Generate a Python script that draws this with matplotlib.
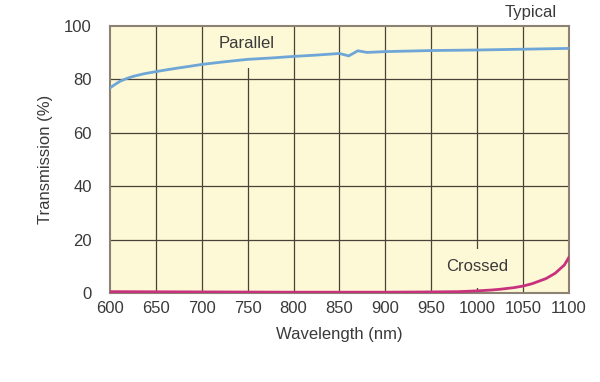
import numpy as np
import matplotlib.pyplot as plt

plt.rcParams['font.family'] = ['Liberation Sans', 'DejaVu Sans']

# parallel transmission (%)
par_wl = [600, 605, 611, 618, 625, 637, 650, 662, 675, 687, 700, 725, 750, 775,
          800, 825, 850, 860, 870, 880, 900, 950, 1000, 1050, 1100]
par_t = [76.8, 78.0, 79.3, 80.3, 81.1, 82.1, 82.9, 83.6, 84.3, 84.9, 85.6, 86.6,
         87.5, 88.0, 88.6, 89.1, 89.7, 88.8, 90.7, 90.1, 90.4, 90.8, 91.0, 91.3, 91.6]

# crossed transmission (%)
crs_wl = [600, 700, 800, 900, 950, 980, 1000, 1015, 1025, 1040, 1050, 1060,
          1075, 1085, 1095, 1100]
crs_t = [0.5, 0.4, 0.3, 0.3, 0.4, 0.5, 0.8, 1.1, 1.4, 2.0, 2.6, 3.5,
         5.4, 7.4, 10.5, 13.4]

xticks = list(range(600, 1101, 50))
yticks = list(range(0, 101, 20))

bg = '#fdf8d5'
grid_c = '#4a4236'
txt_c = '#3a3a3a'

fig = plt.figure(figsize=(6, 3.82), dpi=100)
ax = fig.add_axes([0.1833, 0.233, 0.765, 0.699])
ax.set_facecolor(bg)

for x in xticks[1:-1]:
    ax.axvline(x, color=grid_c, lw=0.9, zorder=1)
for y in yticks[1:-1]:
    ax.axhline(y, color=grid_c, lw=0.9, zorder=1)

# hide gridline behind labels
ax.axvspan(735, 765, ymin=0.843, ymax=1, color=bg, lw=0, zorder=2)
ax.axvspan(985, 1015, ymin=0.02, ymax=0.165, color=bg, lw=0, zorder=2)

ax.plot(par_wl, par_t, color='#6ea6d8', lw=2.0, zorder=3)
ax.plot(crs_wl, crs_t, color='#c8317e', lw=2.0, zorder=3)

ax.text(749, 93.3, 'Parallel', ha='center', va='center', fontsize=12, color=txt_c, zorder=4)
ax.text(1000, 10, 'Crossed', ha='center', va='center', fontsize=12, color=txt_c, zorder=4)
fig.text(0.928, 0.968, 'Typical', ha='right', va='center', fontsize=12, color=txt_c)

ax.set_xlim(600, 1100)
ax.set_ylim(0, 100)
ax.set_xticks(xticks)
ax.set_yticks(yticks)
ax.tick_params(length=0, labelsize=12, colors=txt_c)
ax.tick_params(axis='y', pad=13)
ax.tick_params(axis='x', pad=6)
for s in ax.spines.values():
    s.set_color('#8c8273')
    s.set_linewidth(1.5)

ax.set_xlabel('Wavelength (nm)', fontsize=12, color=txt_c, labelpad=8)
ax.set_ylabel('Transmission (%)', fontsize=12, color=txt_c, labelpad=8)

fig.savefig('out.png', dpi=100)
